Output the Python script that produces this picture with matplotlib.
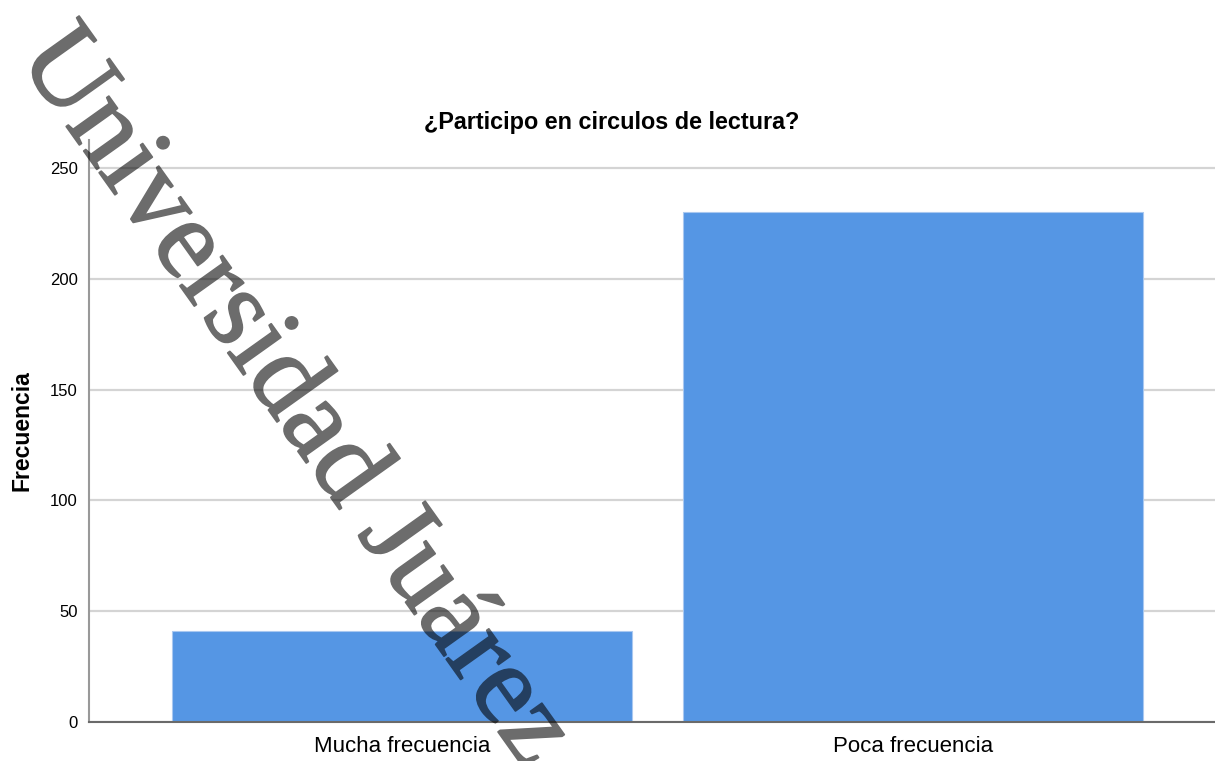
import matplotlib.pyplot as plt
import matplotlib.patheffects as pe

categorias = ["Mucha frecuencia", "Poca frecuencia"]
frecuencias = [41, 230]
yticks = [0, 50, 100, 150, 200, 250]

titulo = "¿Participo en circulos de lectura?"
marca_agua = "Universidad Juárez"

plt.rcParams['font.family'] = ['Liberation Sans', 'DejaVu Sans']


def transparentar(img, dpi):
    # el texto se dibuja opaco (relleno + trazo) y luego se baja el alfa de una vez
    img = img.copy()
    img[..., 3] *= 0.58
    return img, 0, 0


fig = plt.figure(figsize=(12.15, 7.61), dpi=100)
ax = fig.add_axes([89 / 1215, 1 - 722 / 761, 1 - 89 / 1215, (722 - 140) / 761])

x = list(range(len(categorias)))
ax.bar(x, frecuencias, width=0.9, color='#5596e4', edgecolor='#a9c8f0', linewidth=0.8, zorder=2)

ax.set_xlim(-0.6125, 1.59)
ax.set_ylim(0, 262.6)
ax.set_yticks(yticks)
ax.set_xticks(x)
ax.set_xticklabels(categorias, fontsize=16)
ax.tick_params(axis='y', labelsize=12, length=0, pad=8)
ax.tick_params(axis='x', length=0, pad=10)
ax.yaxis.grid(True, color='#d4d4d4', linewidth=1.6, zorder=0)
ax.set_axisbelow(True)

for s in ['top', 'right']:
    ax.spines[s].set_visible(False)
ax.spines['left'].set_color('#999999')
ax.spines['left'].set_linewidth(1.5)
ax.spines['bottom'].set_color('#6a6a6a')
ax.spines['bottom'].set_linewidth(1.5)

fig.text(612 / 1215, 1 - 123 / 761, titulo, ha='center', va='center', fontsize=16.8, fontweight='bold')
fig.text(22 / 1215, 1 - 431 / 761, "Frecuencia", ha='center', va='center', rotation=90, fontsize=16.5, fontweight='bold')

# marca de agua
wm = fig.text(294 / 1215, 1 - 398 / 761, marca_agua, ha='center', va='center', rotation=-54.5,
              rotation_mode='anchor', fontsize=82, family='Liberation Serif', color='black', zorder=10)
wm.set_path_effects([pe.Stroke(linewidth=1.3, foreground='black'), pe.Normal()])
wm.set_agg_filter(transparentar)

fig.savefig('out.png', dpi=100)
